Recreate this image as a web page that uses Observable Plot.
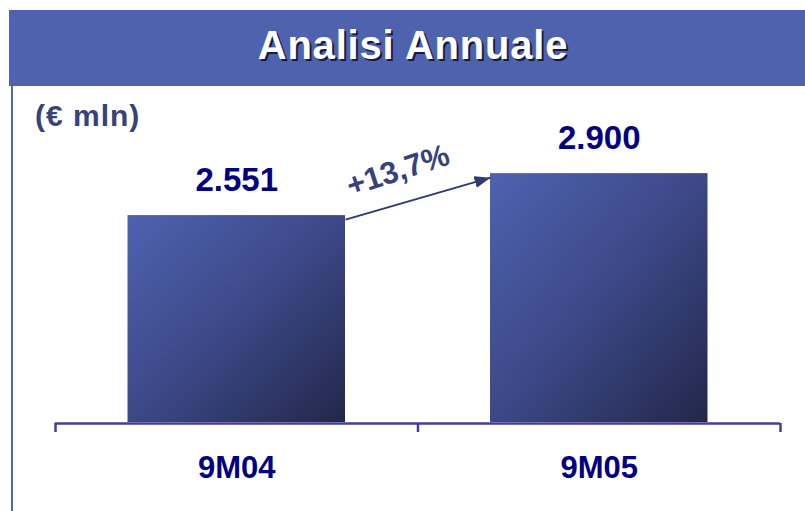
<!DOCTYPE html>
<html>
<head>
<meta charset="utf-8">
<script src="https://cdn.jsdelivr.net/npm/d3@7"></script>
<script src="https://cdn.jsdelivr.net/npm/@observablehq/plot@0.6"></script>
<style>
  html, body { margin: 0; padding: 0; background: #fff; overflow: hidden; }
  #wrap { position: relative; width: 805px; height: 511px; font-family: "Liberation Sans", Arial, sans-serif; }
  #banner { position: absolute; left: 9px; top: 10px; width: 796px; height: 76px; background: #4f62ae;
            color: #fff; font-weight: bold; font-size: 40px; line-height: 71px; text-align: center;
            padding-left: 12px; box-sizing: border-box; letter-spacing: 0.8px; text-shadow: 2px 2px 0 #171a3c; }
  #leftline { position: absolute; left: 11px; top: 86px; width: 2px; height: 425px; background: #5464b4; }
  #unit { position: absolute; left: 35px; top: 101px; font-weight: bold; font-size: 30px; line-height: 30px;
          letter-spacing: 1px; color: #37427a; }
  #chart { position: absolute; left: 0; top: 86px; }
</style>
</head>
<body>
<div id="wrap">
  <div id="banner">Analisi Annuale</div>
  <div id="leftline"></div>
  <div id="unit">(€ mln)</div>
  <div id="chart"></div>
</div>
<script>
const categories = ["9M04", "9M05"];
const values = [2551, 2900];
const yDomain = [830, 3500];

const barInset = 0.2;
const locale = d3.formatLocale({decimal: ",", thousands: ".", grouping: [3], currency: ["€", ""]});
const fmtVal = locale.format(",d");
const growth = (values[1] / values[0] - 1) * 100;
const growthLabel = "+" + locale.format(".1f")(growth) + "%";

const rows = categories.map((c, i) => ({cat: c, i, value: values[i]}));
const n = categories.length;
const axisColor = "#4a3b98";

const svg = Plot.plot({
  width: 805,
  height: 425,
  marginTop: 0, marginRight: 0, marginBottom: 88, marginLeft: 0,
  style: {fontFamily: "'Liberation Sans', Arial, sans-serif", background: "transparent"},
  x: {type: "linear", domain: [0, n], range: [55, 780], axis: null},
  y: {domain: yDomain, range: [336, 15], axis: null},
  marks: [
    Plot.rectY(rows, {
      x1: d => d.i + barInset, x2: d => d.i + 1 - barInset,
      y1: () => yDomain[0], y2: "value",
      fill: "url(#barGrad)"
    }),
    Plot.ruleY([{v: yDomain[0], a: 0, b: n}], {y: "v", x1: "a", x2: "b", stroke: axisColor, strokeWidth: 2.5, dy: 1}),
    Plot.axisX(d3.range(n + 1), {tickSize: 9, tickFormat: () => "", stroke: axisColor, strokeWidth: 2.5}),
    Plot.text(rows, {
      x: d => d.i + 0.5, y: "value", text: d => fmtVal(d.value),
      dy: -25, lineAnchor: "bottom", fontSize: 33, fontWeight: "bold", fill: "#000080"
    }),
    Plot.text(rows, {
      x: d => d.i + 0.5, y: () => yDomain[0], text: "cat",
      dy: 55, lineAnchor: "bottom", fontSize: 31, fontWeight: "bold", fill: "#000080"
    }),
    Plot.link([{x1: 1 - barInset, y1: values[0], x2: 1 + barInset, y2: values[1]}], {
      x1: "x1", y1: "y1", x2: "x2", y2: "y2", stroke: "#2f3a6e", strokeWidth: 2, dy: 4
    }),
    Plot.text([{x: 1, y: (values[0] + values[1]) / 2, t: growthLabel}], {
      x: "x", y: "y", text: "t", dx: -20, dy: -24, rotate: -18,
      fontSize: 31, fontWeight: "bold", fill: "#37427a", textAnchor: "middle", lineAnchor: "middle"
    })
  ]
});

const s = d3.select(svg);
const defs = s.insert("defs", ":first-child");
const g = defs.append("linearGradient").attr("id", "barGrad")
  .attr("x1", "0").attr("y1", "0").attr("x2", "1").attr("y2", "1");
g.append("stop").attr("offset", "0").attr("stop-color", "#4f62b0");
g.append("stop").attr("offset", "0.5").attr("stop-color", "#3c4887");
g.append("stop").attr("offset", "1").attr("stop-color", "#22274a");
defs.append("marker").attr("id", "arrowHead")
  .attr("markerUnits", "userSpaceOnUse").attr("viewBox", "0 0 16 12")
  .attr("refX", 16).attr("refY", 6).attr("markerWidth", 16).attr("markerHeight", 12)
  .attr("orient", "auto")
  .append("path").attr("d", "M0,0L16,6L0,12Z").attr("fill", "#2f3a6e");
s.selectAll('g[aria-label="link"] path').attr("marker-end", "url(#arrowHead)");

document.getElementById("chart").appendChild(svg);
</script>
</body>
</html>
